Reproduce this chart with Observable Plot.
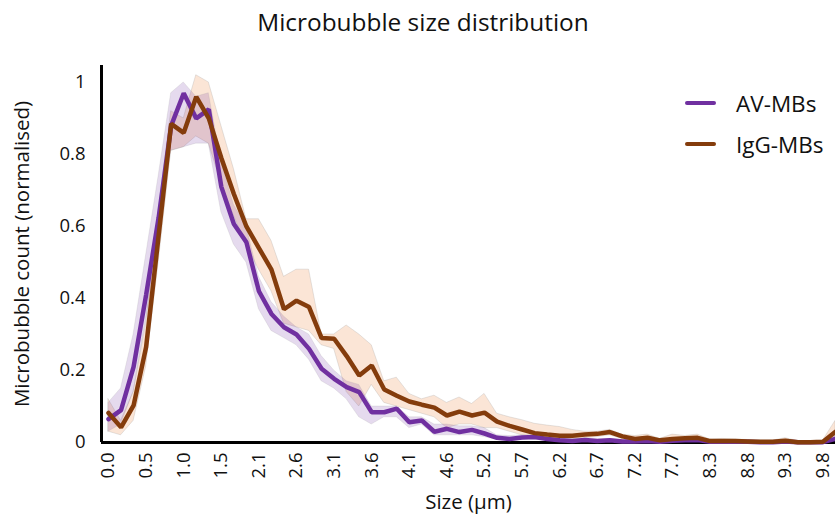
<!DOCTYPE html>
<html>
<head>
<meta charset="utf-8">
<script src="https://cdn.jsdelivr.net/npm/d3@7"></script>
<script src="https://cdn.jsdelivr.net/npm/@observablehq/plot@0.6"></script>
<style>
  html, body { margin: 0; padding: 0; background: #fff; }
  body { width: 835px; height: 519px; position: relative; overflow: hidden; font-family: "Open Sans", sans-serif; color: #111; }
  #title { position: absolute; left: 0; top: 6px; width: 846px; text-align: center; font-size: 24.4px; line-height: 32px; z-index: 2; }
  #chart { position: absolute; left: 0; top: 30px; }
  .leg { position: absolute; left: 685px; height: 30px; display: flex; align-items: center; font-size: 22.5px; z-index: 2; }
  .leg span.sw { display: inline-block; width: 31px; height: 4.5px; border-radius: 2px; margin-right: 20px; }
</style>
</head>
<body>
<div id="title">Microbubble size distribution</div>
<div id="chart"></div>
<div class="leg" style="top:88px"><span class="sw" style="background:#7030A0"></span><span>AV-MBs</span></div>
<div class="leg" style="top:129px"><span class="sw" style="background:#843C0C"></span><span>IgG-MBs</span></div>
<script>
// Size bin tick labels (every 3rd bin)
const sizeLabels = ["0.0","0.5","1.0","1.5","2.1","2.6","3.1","3.6","4.1","4.6","5.2","5.7","6.2","6.7","7.2","7.7","8.3","8.8","9.3","9.8"];
const seriesNames = ["AV-MBs", "IgG-MBs"];

// AV-MBs normalised count, with lower / upper band
const av   = [0.065,0.09,0.21,0.41,0.625,0.88,0.97,0.90,0.925,0.71,0.607,0.556,0.42,0.357,0.32,0.30,0.26,0.205,0.177,0.154,0.14,0.084,0.084,0.094,0.056,0.061,0.03,0.038,0.029,0.035,0.025,0.013,0.01,0.014,0.015,0.01,0.006,0.004,0.007,0.004,0.006,0.003,0.003,0.004,0.002,0.005,0.006,0.007,0.002,0.002,0.002,0.002,0.001,0.001,0.003,0.001,0.001,0.001,0.01];
const avLo = [0.03,0.05,0.14,0.34,0.56,0.81,0.82,0.83,0.83,0.64,0.55,0.50,0.37,0.31,0.29,0.27,0.23,0.17,0.15,0.12,0.07,0.05,0.07,0.07,0.04,0.05,0.02,0.02,0.02,0.02,0.015,0.007,0.005,0.008,0.008,0.005,0.002,0.001,0.003,0.001,0.002,0,0,0,0,0.001,0.002,0.003,0,0,0,0,0,0,0,0,0,0,0.002];
const avHi = [0.11,0.15,0.30,0.52,0.74,0.97,1.0,0.96,0.97,0.78,0.66,0.60,0.46,0.39,0.35,0.32,0.30,0.24,0.20,0.17,0.16,0.10,0.10,0.10,0.07,0.07,0.05,0.05,0.045,0.045,0.04,0.02,0.018,0.02,0.02,0.015,0.01,0.008,0.01,0.008,0.01,0.006,0.006,0.008,0.005,0.008,0.01,0.01,0.004,0.004,0.004,0.004,0.003,0.003,0.006,0.003,0.003,0.003,0.02];

// IgG-MBs normalised count, with lower / upper band
const igg   = [0.082,0.042,0.103,0.265,0.575,0.885,0.86,0.96,0.90,0.79,0.69,0.60,0.54,0.48,0.37,0.394,0.376,0.29,0.288,0.24,0.186,0.214,0.147,0.13,0.114,0.105,0.097,0.075,0.086,0.075,0.083,0.058,0.046,0.036,0.026,0.022,0.019,0.019,0.022,0.024,0.029,0.017,0.01,0.013,0.006,0.01,0.012,0.013,0.004,0.004,0.004,0.003,0.002,0.002,0.005,0.001,0.001,0.002,0.03];
const iggLo = [0.03,0.02,0.06,0.21,0.50,0.81,0.82,0.85,0.83,0.72,0.63,0.55,0.48,0.42,0.33,0.32,0.31,0.27,0.26,0.14,0.10,0.16,0.11,0.10,0.09,0.08,0.07,0.04,0.05,0.05,0.04,0.04,0.03,0.02,0.015,0.012,0.01,0.01,0.012,0.015,0.02,0.01,0.005,0.006,0.002,0.005,0.006,0.006,0.001,0.001,0.001,0.001,0,0,0.002,0,0,0,0.01];
const iggHi = [0.12,0.06,0.14,0.33,0.64,0.92,0.90,1.02,1.0,0.88,0.76,0.62,0.62,0.56,0.46,0.48,0.48,0.30,0.30,0.325,0.30,0.27,0.17,0.18,0.135,0.12,0.13,0.11,0.125,0.107,0.135,0.08,0.07,0.062,0.052,0.047,0.043,0.035,0.03,0.03,0.035,0.022,0.018,0.022,0.01,0.022,0.018,0.022,0.008,0.01,0.008,0.007,0.005,0.005,0.012,0.004,0.004,0.005,0.06];

const rows = av.map((v, i) => ({
  i, av: v, avLo: avLo[i], avHi: avHi[i], igg: igg[i], iggLo: iggLo[i], iggHi: iggHi[i]
}));
const tickIdx = sizeLabels.map((_, k) => k * 3);
const xDomain = [-0.56, 58.0];

const chart = Plot.plot({
  width: 835,
  height: 489,
  marginLeft: 101,
  marginRight: 0,
  marginTop: 35,
  marginBottom: 77,
  style: { fontFamily: "Open Sans, sans-serif", fontSize: "18.5px", color: "#111", background: "transparent", overflow: "visible" },
  x: { domain: xDomain, ticks: tickIdx, tickFormat: d => sizeLabels[d / 3], tickRotate: -90, tickSize: 0, tickPadding: 10, label: null },
  y: { domain: [0, 1.047], ticks: [0, 0.2, 0.4, 0.6, 0.8, 1], tickFormat: d => (d === 0 ? "0" : d === 1 ? "1" : d.toFixed(1)), tickSize: 0, tickPadding: 16, label: null },
  marks: [
    Plot.areaY(rows, { x: "i", y1: "iggLo", y2: "iggHi", fill: "#F8CBAD", fillOpacity: 0.5, stroke: "#999", strokeOpacity: 0.35, strokeWidth: 0.7 }),
    Plot.areaY(rows, { x: "i", y1: "avLo", y2: "avHi", fill: "#7030A0", fillOpacity: 0.18, stroke: "#999", strokeOpacity: 0.25, strokeWidth: 0.7 }),
    Plot.ruleX([xDomain[0]], { stroke: "#000", strokeWidth: 3 }),
    Plot.ruleY([0], { stroke: "#000", strokeWidth: 3 }),
    Plot.lineY(rows, { x: "i", y: "av", stroke: "#7030A0", strokeWidth: 4.5, strokeLinejoin: "miter" }),
    Plot.lineY(rows, { x: "i", y: "igg", stroke: "#843C0C", strokeWidth: 4.5, strokeLinejoin: "miter" }),
    Plot.text(["Microbubble count (normalised)"], { frameAnchor: "left", textAnchor: "middle", rotate: -90, dx: -79, fontSize: 20.5, fill: "#111" }),
    Plot.text(["Size (µm)"], { frameAnchor: "bottom", dy: 66, fontSize: 20.5, fill: "#111" })
  ]
});
document.getElementById("chart").appendChild(chart);
</script>
</body>
</html>
